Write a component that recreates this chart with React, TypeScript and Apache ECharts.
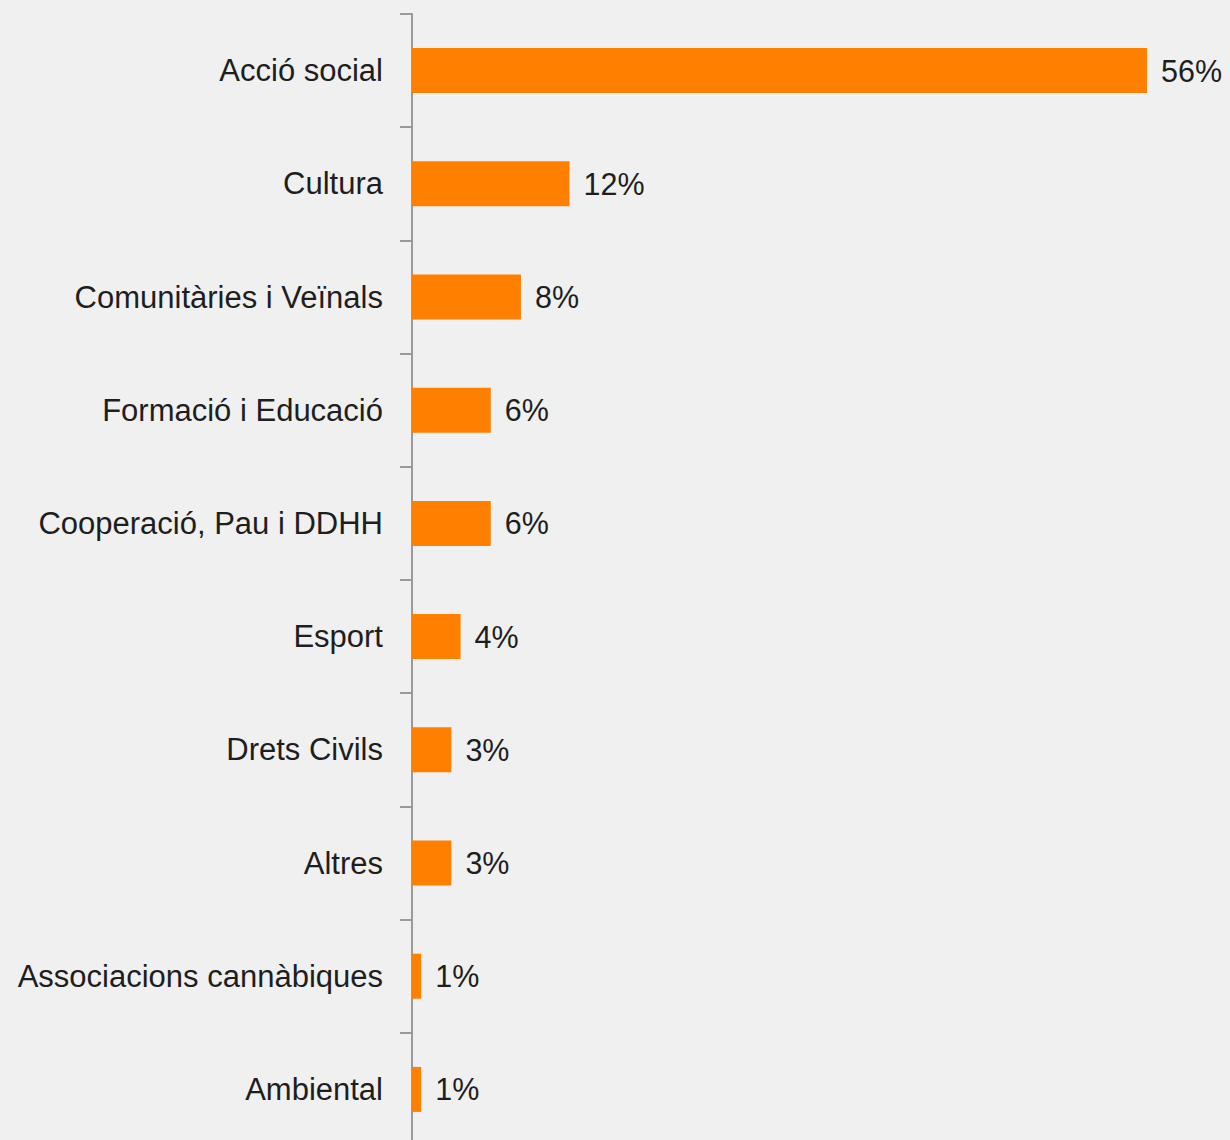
import React, { useEffect, useRef } from "react";
import * as echarts from "echarts";

const categories = [
  "Acció social",
  "Cultura",
  "Comunitàries i Veïnals",
  "Formació i Educació",
  "Cooperació, Pau i DDHH",
  "Esport",
  "Drets Civils",
  "Altres",
  "Associacions cannàbiques",
  "Ambiental",
];
const values = [56, 12, 8.3, 6, 6, 3.7, 3, 3, 0.7, 0.7];

export default function App() {
  const ref = useRef<HTMLDivElement>(null);
  useEffect(() => {
    if (!ref.current) return;
    const chart = echarts.init(ref.current, null, { renderer: "svg" });
    chart.setOption({
      animation: false,
      backgroundColor: "#f0f0f0",
      textStyle: { fontFamily: "Liberation Sans, Arial, sans-serif" },
      grid: { left: 412, top: 14, width: 787.5, height: 1132 },
      xAxis: { type: "value", min: 0, max: 60, show: false },
      yAxis: {
        type: "category",
        inverse: true,
        data: categories,
        axisLine: { show: true, lineStyle: { color: "#9a9a9a", width: 2 } },
        axisTick: { show: true, length: 12, lineStyle: { color: "#9a9a9a", width: 2 } },
        axisLabel: { margin: 29, fontSize: 31, color: "#1e1e1e", padding: [4, 0, 0, 0] },
        splitLine: { show: false },
      },
      series: [
        {
          type: "bar",
          data: values,
          barWidth: 45,
          itemStyle: { color: "#ff7f00" },
          label: {
            show: true,
            position: "right",
            distance: 14,
            fontSize: 30.5,
            color: "#1e1e1e",
            padding: [4, 0, 0, 0],
            formatter: (p: any) => Math.round(p.value) + "%",
          },
        },
      ],
    });
    return () => chart.dispose();
  }, []);
  return (
    <div
      ref={ref}
      style={{ position: "fixed", left: 0, top: 0, width: 1230, height: 1160 }}
    />
  );
}
